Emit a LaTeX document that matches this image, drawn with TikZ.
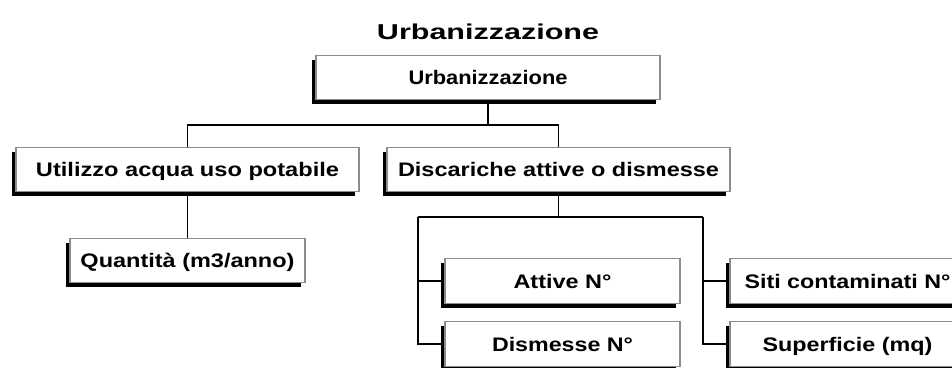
\documentclass[tikz,border=0pt]{standalone}
\usepackage{fontspec}
\setmainfont{Liberation Sans}
\usepackage{graphicx}
\newcommand{\fw}[2]{\resizebox{#1pt}{\height}{#2}}
\begin{document}
\begin{tikzpicture}[x=1pt,y=-1pt,
  box/.style={draw=black!45, line width=1.3pt, fill=white, inner sep=0pt,
    minimum height=44.5pt, text height=14pt, text depth=0pt,
    font=\fontsize{19.6pt}{21pt}\selectfont\bfseries,
    preaction={fill=black, transform canvas={xshift=-4.5pt,yshift=-4.5pt}}},
  wide/.style={box, minimum width=343pt},
  narrow/.style={box, minimum width=235pt},
  link/.style={draw=black, line width=1.5pt}]
\useasboundingbox (0,0) rectangle (952,367);
\clip (0,0) rectangle (952,367);

\node[font=\fontsize{21.5pt}{23pt}\selectfont\bfseries, text height=15.4pt, text depth=0pt, inner sep=0pt]
  (title) at (488,32) {\fw{222}{Urbanizzazione}};

\node[wide, minimum width=344pt] (top) at (488,77.5) {\fw{159}{Urbanizzazione}};
\node[wide] (util) at (187.5,169.5) {\fw{303}{Utilizzo acqua uso potabile}};
\node[wide] (disc) at (558.5,169.5) {\fw{321}{Discariche attive o dismesse}};
\node[narrow] (quant) at (187.5,260.5) {\fw{214}{Quantità (m3/anno)}};
\node[narrow] (att) at (562.5,281) {\fw{98}{Attive N°}};
\node[narrow] (dism) at (562.5,344) {\fw{141}{Dismesse N°}};
\node[narrow] (siti) at (847.5,281) {\fw{206}{Siti contaminati N°}};
\node[narrow] (sup) at (847.5,344) {\fw{170}{Superficie (mq)}};

\coordinate (j1) at (488,125);
\coordinate (j2) at (558.5,217);
\coordinate (l) at (418,217);
\coordinate (r) at (703,217);

\draw[link] (top.south) -- (j1);
\draw[link] (util.north) |- (j1) -| (disc.north);
\draw[link] (util.south) -- (quant.north);
\draw[link] (disc.south) -- (j2);
\draw[link] (l) -- (r);
\draw[link] (dism.west) -| (l);
\draw[link] (att.west) -- (att.west -| l);
\draw[link] (sup.west) -| (r);
\draw[link] (siti.west) -- (siti.west -| r);
\end{tikzpicture}
\end{document}
